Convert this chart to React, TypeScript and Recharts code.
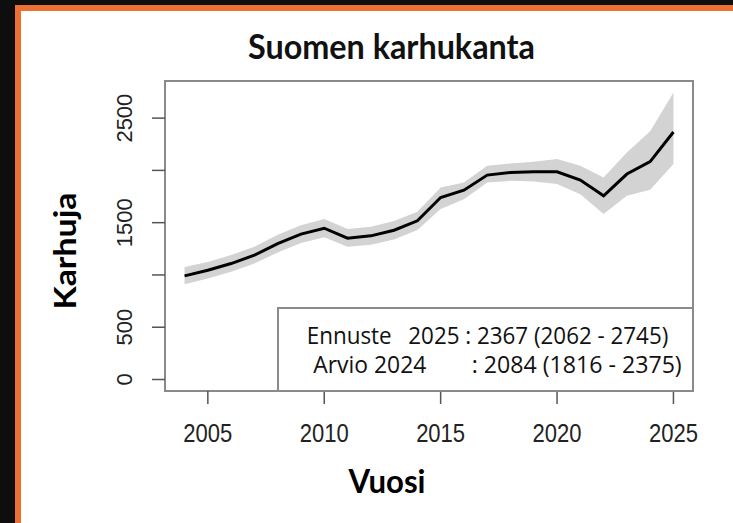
import { ComposedChart, Area, Line, XAxis, YAxis, ReferenceArea, Legend, Label } from "recharts";

// bear population estimates, Finland
const years = [2004, 2005, 2006, 2007, 2008, 2009, 2010, 2011, 2012, 2013, 2014, 2015, 2016, 2017, 2018, 2019, 2020, 2021, 2022, 2023, 2024, 2025];
const estimate = [991, 1045, 1109, 1189, 1300, 1390, 1447, 1352, 1374, 1428, 1518, 1741, 1811, 1955, 1980, 1987, 1987, 1907, 1757, 1965, 2084, 2367];
const lower = [910, 965, 1030, 1110, 1215, 1305, 1360, 1270, 1290, 1340, 1430, 1630, 1725, 1884, 1900, 1894, 1869, 1773, 1582, 1757, 1816, 2062];
const upper = [1075, 1125, 1190, 1270, 1385, 1475, 1535, 1440, 1460, 1515, 1605, 1837, 1884, 2044, 2066, 2083, 2108, 2044, 1932, 2172, 2375, 2745];

const xTicks = [2005, 2010, 2015, 2020, 2025];
const yTicks = [0, 500, 1000, 1500, 2000, 2500];
// R drops the labels that would overlap
const yTickLabels = ["0", "500", "", "1500", "", "2500"];

const title = "Suomen karhukanta";
const xTitle = "Vuosi";
const yTitle = "Karhuja";
const forecastText = ["Ennuste", "2025 : 2367 (2062 - 2745)"];
const estimateText = ["Arvio 2024", ": 2084 (1816 - 2375)"];

const data = years.map((year, i) => ({
  year,
  estimate: estimate[i],
  range: [lower[i], upper[i]],
}));

const xDomain = [2003.16, 2025.84];
const yDomain = [-110, 2855];

const BOX = "#8a8a8a";
const TICK = "#555";

function XTick({ x, y, payload }: any) {
  return (
    <text x={x} y={y + 27} textAnchor="middle" dominantBaseline="central"
      fontFamily="Liberation Sans, Arial" fontSize={25} fill="#222"
      textLength={49} lengthAdjust="spacingAndGlyphs">
      {payload.value}
    </text>
  );
}

function YTick({ x, y, index }: any) {
  const label = yTickLabels[index];
  if (!label) return <g />;
  const cx = x - 25;
  return (
    <text x={cx} y={y} transform={`rotate(-90, ${cx}, ${y})`} textAnchor="middle"
      dominantBaseline="central" fontFamily="Liberation Sans, Arial" fontSize={22} fill="#222">
      {label}
    </text>
  );
}

function InfoBox() {
  const font = "Open Sans, Liberation Sans";
  const fs = 23;
  return (
    <div style={{ width: 417, height: 85, border: `2px solid ${BOX}`, boxSizing: "border-box", background: "#fff" }}>
      <svg width={415} height={83} style={{ position: "absolute", left: 1, top: 1 }}>
        <text x={28.7} y={36.3} fontFamily={font} fontSize={fs} fill="#111" textLength={85} lengthAdjust="spacingAndGlyphs">{forecastText[0]}</text>
        <text x={130.3} y={36.3} fontFamily={font} fontSize={fs} fill="#111" textLength={260} lengthAdjust="spacingAndGlyphs">{forecastText[1]}</text>
        <text x={35.3} y={65.3} fontFamily={font} fontSize={fs} fill="#111" textLength={113} lengthAdjust="spacingAndGlyphs">{estimateText[0]}</text>
        <text x={193.7} y={65.3} fontFamily={font} fontSize={fs} fill="#111" textLength={210} lengthAdjust="spacingAndGlyphs">{estimateText[1]}</text>
      </svg>
    </div>
  );
}

export default function App() {
  return (
    <div style={{ position: "fixed", left: 0, top: 0, width: 733, height: 523, background: "#0e0e0e" }}>
      <div style={{ position: "absolute", left: 15, top: 5, right: 0, bottom: 0, background: "#ea7033" }} />
      <div style={{ position: "absolute", left: 21, top: 11, right: 0, bottom: 0, background: "#fff" }} />
      <div style={{ position: "absolute", left: 0, top: 0 }}>
        <ComposedChart width={733} height={523} data={data}
          margin={{ top: 81, right: 40, bottom: 0, left: 0 }}>
          <XAxis dataKey="year" type="number" domain={xDomain} ticks={xTicks} height={132}
            axisLine={false} tickSize={13} tickLine={{ stroke: TICK, strokeWidth: 1.5 }}
            tick={<XTick />} interval={0} allowDataOverflow>
            <Label content={({ viewBox }: any) => (
              <text x={viewBox.x + viewBox.width / 2 - 42} y={viewBox.y + 89} textAnchor="middle"
                dominantBaseline="central" fontFamily="Lato, Open Sans" fontWeight={700} fontSize={32}
                fill="#000" textLength={77} lengthAdjust="spacingAndGlyphs">
                {xTitle}
              </text>
            )} />
          </XAxis>
          <YAxis type="number" domain={yDomain} ticks={yTicks} width={165}
            axisLine={false} tickSize={13} tickLine={{ stroke: TICK, strokeWidth: 1.5 }}
            tick={<YTick />} interval={0} allowDataOverflow>
            <Label content={({ viewBox }: any) => {
              const cx = viewBox.x + 64;
              const cy = viewBox.y + viewBox.height / 2 + 15;
              return (
                <text x={cx} y={cy} transform={`rotate(-90, ${cx}, ${cy})`} textAnchor="middle"
                  dominantBaseline="central" fontFamily="Lato, Open Sans" fontWeight={700} fontSize={30}
                  fill="#000" textLength={117} lengthAdjust="spacingAndGlyphs">
                  {yTitle}
                </text>
              );
            }} />
          </YAxis>
          <Area dataKey="range" type="linear" fill="#d3d3d3" fillOpacity={1} stroke="none"
            isAnimationActive={false} legendType="none" />
          <Line dataKey="estimate" type="linear" stroke="#000" strokeWidth={3} dot={false}
            isAnimationActive={false} legendType="none" />
          <ReferenceArea x1={xDomain[0]} x2={xDomain[1]} y1={yDomain[0]} y2={yDomain[1]}
            fill="none" stroke={BOX} strokeWidth={2} ifOverflow="visible" />
          <Legend layout="vertical" align="center" verticalAlign="middle" content={<InfoBox />}
            wrapperStyle={{ left: 277, top: 307, width: 417, height: 85 }} />
          <text x={391.5} y={45} textAnchor="middle" dominantBaseline="central"
            fontFamily="Lato, Open Sans" fontWeight={700} fontSize={34} fill="#111"
            textLength={287} lengthAdjust="spacingAndGlyphs">
            {title}
          </text>
        </ComposedChart>
      </div>
    </div>
  );
}
